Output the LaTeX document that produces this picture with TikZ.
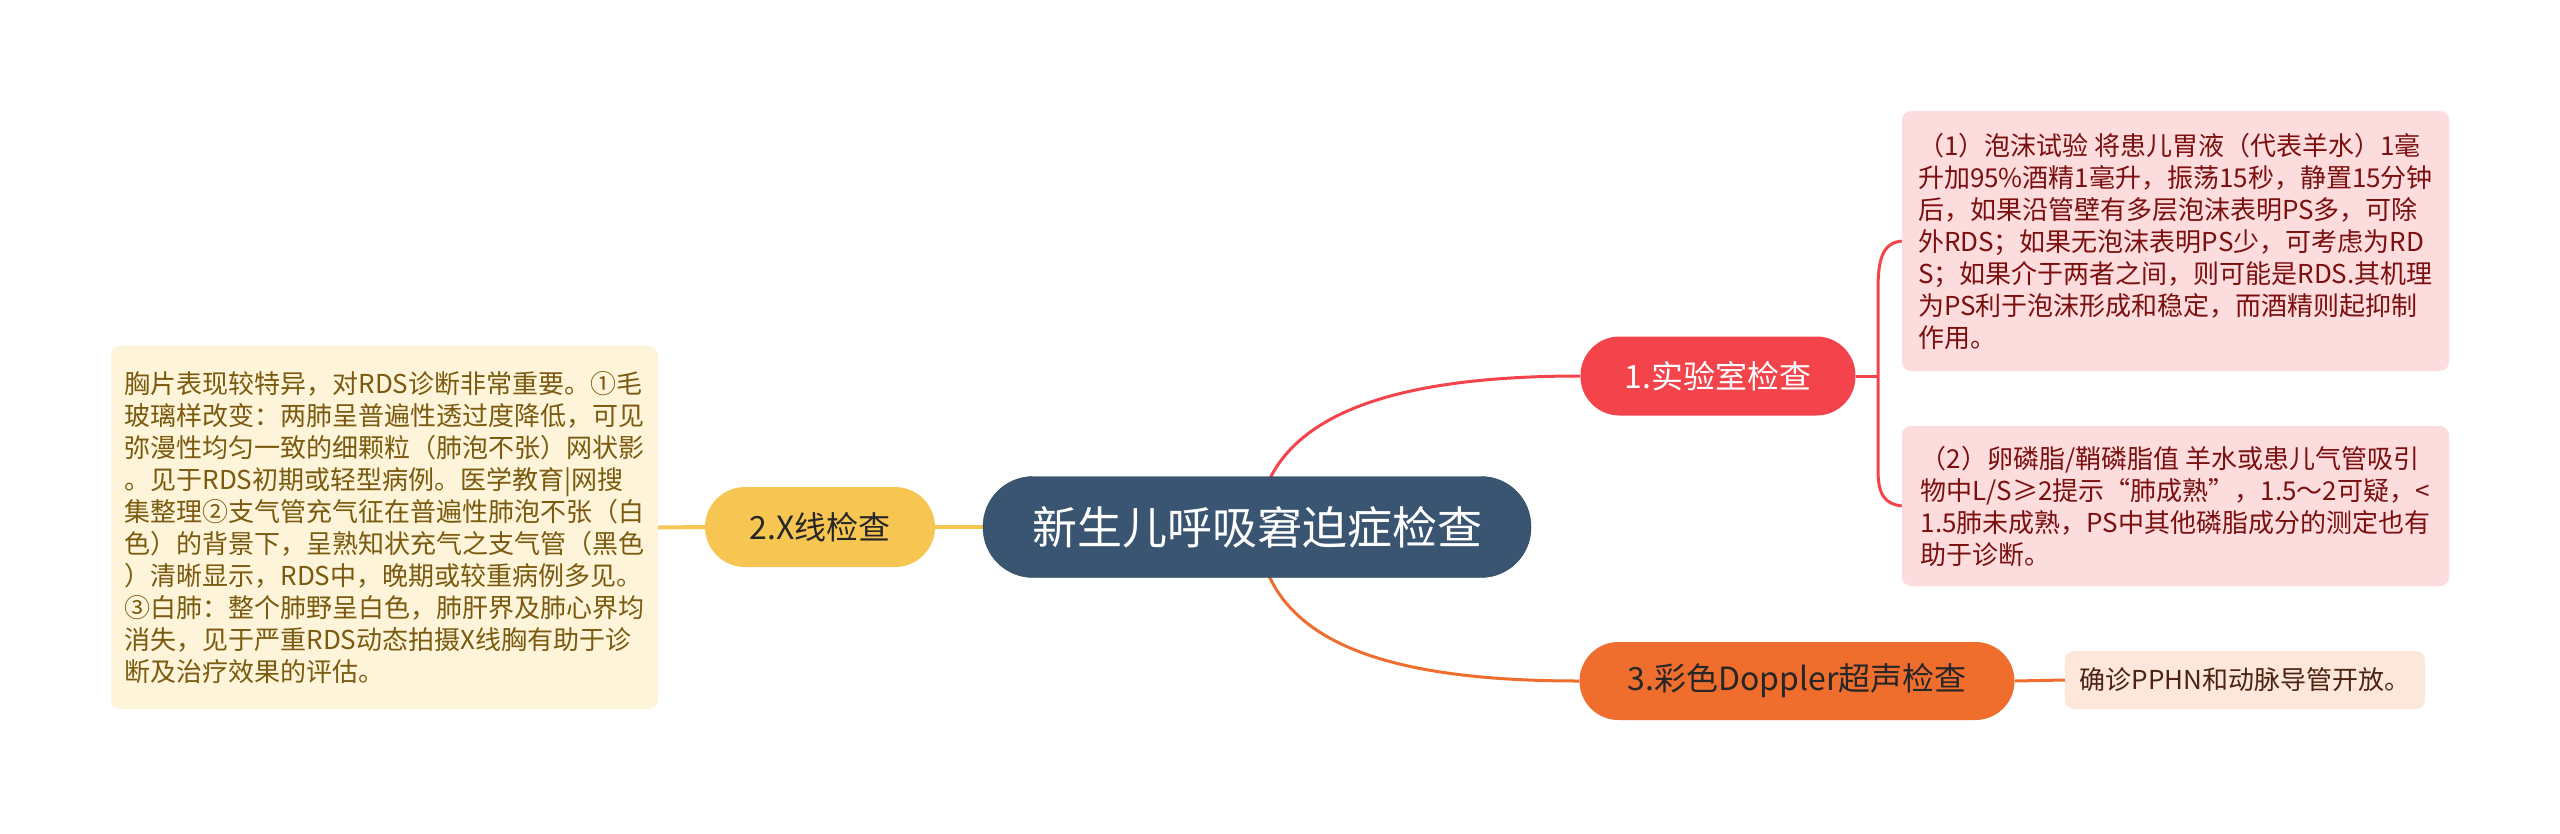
\documentclass[tikz,border=0pt]{standalone}
\usepackage{fontspec}
\setmainfont{Noto Sans CJK SC}
\usetikzlibrary{backgrounds}
\definecolor{rootblue}{HTML}{3A5571}
\definecolor{labred}{HTML}{F4444B}
\definecolor{xrayyellow}{HTML}{F7C551}
\definecolor{doporange}{HTML}{EF6E2D}
\definecolor{pinkfill}{HTML}{FCDCDC}
\definecolor{pinktext}{HTML}{7B0F0F}
\definecolor{creamfill}{HTML}{FEF4DA}
\definecolor{creamtext}{HTML}{7A5A0E}
\definecolor{peachfill}{HTML}{FDE6DA}
\definecolor{peachtext}{HTML}{4A2410}
\begin{document}
\begin{tikzpicture}[x=1pt, y=-1pt]
        \tikzstyle{topic} = [align=center, inner sep=0pt, font=\fontsize{32}{38}\selectfont]
        \tikzstyle{leaf} = [rounded corners=9pt, align=left, inner sep=0pt, font=\fontsize{26}{32}\selectfont]
        \useasboundingbox (0,0) rectangle (2560,833);
        % main topic and branches
        \node[topic, fill=rootblue, draw=rootblue!80!black, text=white, rounded corners=50pt, minimum width=548pt, minimum height=101pt, font=\fontsize{45}{50}\selectfont] (root) at (1257,527) {新生儿呼吸窘迫症检查};
        \node[topic, fill=labred, text=white, rounded corners=39pt, minimum width=275pt, minimum height=79pt] (lab) at (1718,376) {1.实验室检查};
        \node[topic, fill=xrayyellow, text=black!85, rounded corners=40pt, minimum width=230pt, minimum height=80pt] (xray) at (820,527) {2.X线检查};
        \node[topic, fill=doporange, text=black!85, rounded corners=39pt, minimum width=435pt, minimum height=78pt] (dop) at (1797,681) {3.彩色Doppler超声检查};
        % leaves
        \node[leaf, fill=pinkfill, text=pinktext, minimum width=547pt, minimum height=260pt] (foam) at (2175.5,241) {（1）泡沫试验 将患儿胃液（代表羊水）1毫\\升加95\%酒精1毫升，振荡15秒，静置15分钟\\后，如果沿管壁有多层泡沫表明PS多，可除\\外RDS；如果无泡沫表明PS少，可考虑为RD\\S；如果介于两者之间，则可能是RDS.其机理\\为PS利于泡沫形成和稳定，而酒精则起抑制\\作用。};
        \node[leaf, fill=pinkfill, text=pinktext, minimum width=547pt, minimum height=160pt] (ratio) at (2175.5,506) {（2）卵磷脂/鞘磷脂值 羊水或患儿气管吸引\\物中L/S≥2提示“肺成熟”，1.5～2可疑，<\\1.5肺未成熟，PS中其他磷脂成分的测定也有\\助于诊断。};
        \node[leaf, fill=creamfill, text=creamtext, minimum width=547pt, minimum height=363pt] (film) at (384.5,527.5) {胸片表现较特异，对RDS诊断非常重要。①毛\\玻璃样改变：两肺呈普遍性透过度降低，可见\\弥漫性均匀一致的细颗粒（肺泡不张）网状影\\。见于RDS初期或轻型病例。医学教育|网搜\\集整理②支气管充气征在普遍性肺泡不张（白\\色）的背景下，呈熟知状充气之支气管（黑色\\）清晰显示，RDS中，晚期或较重病例多见。\\③白肺：整个肺野呈白色，肺肝界及肺心界均\\消失，见于严重RDS动态拍摄X线胸有助于诊\\断及治疗效果的评估。};
        \node[leaf, fill=peachfill, text=peachtext, minimum width=360pt, minimum height=58pt] (pphn) at (2245,680) {确诊PPHN和动脉导管开放。};
        \coordinate (brk) at (1878,376);
        % connectors
        \begin{scope}[on background layer]
        \fill[white] (0,0) rectangle (2560,833);
        \draw[labred, line width=3pt] (root.center) .. controls (1265,420) and (1380,376) .. (lab.west);
        \draw[doporange, line width=3pt] (root.center) .. controls (1265,640) and (1380,681) .. (dop.west);
        \draw[xrayyellow, line width=4pt] (root.west) -- (xray.east);
        \draw[xrayyellow, line width=4pt] (xray.west) -- (film.east);
        \draw[labred, line width=3pt] (lab.east) -- (brk);
        \draw[labred, line width=3pt] (foam.west) .. controls (1882,243) and (1878,260) .. (1878,290) -- (1878,470) .. controls (1878,495) and (1885,504) .. (ratio.west);
        \draw[doporange, line width=3pt] (dop.east) -- (pphn.west);
        \end{scope}
\end{tikzpicture}
\end{document}
